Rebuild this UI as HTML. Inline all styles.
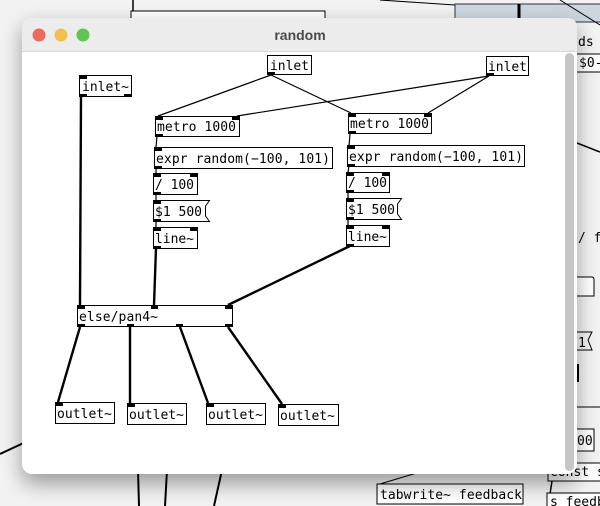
<!DOCTYPE html>
<html><head><meta charset="utf-8"><style>
html,body{margin:0;padding:0;width:600px;height:506px;overflow:hidden;background:#f4f4f4}
svg{position:absolute;left:0;top:0}
text{font-family:"DejaVu Sans Mono","Liberation Mono",monospace;font-size:13px;fill:#000}
</style></head><body>
<svg width="600" height="506" viewBox="0 0 600 506">
<defs>
<filter id="sh" x="-10%" y="-10%" width="120%" height="125%"><feGaussianBlur stdDeviation="10"/></filter>
</defs>
<rect x="0" y="0" width="600" height="506" fill="#f2f2f2"/>
<line x1="133" y1="0" x2="133" y2="12" stroke="#000" stroke-width="1.5"/>
<rect x="131" y="11" width="194" height="14" fill="#fff" stroke="#000"/>
<rect x="455" y="4" width="150" height="18" fill="#cdd6e0" stroke="#333"/>
<line x1="519" y1="4" x2="519" y2="22" stroke="#000" stroke-width="3"/>
<line x1="380" y1="0" x2="455" y2="5" stroke="#000"/>
<line x1="560" y1="0" x2="600" y2="25" stroke="#000"/>
<text x="578" y="46">ds</text>
<rect x="576" y="54" width="30" height="18" fill="#fff" stroke="#000"/>
<text x="579" y="67">$0-</text>
<line x1="577" y1="143" x2="600" y2="152" stroke="#000" stroke-width="1.5"/>
<text x="578" y="242">/ f</text>
<path d="M577 277 H592 Q594 277 594 280 V296 H577" fill="#fff" stroke="#000"/>
<text x="578" y="347">1</text>
<path d="M577 332 H592 L588 340 L592 350 H577" fill="none" stroke="#000"/>
<line x1="578" y1="364" x2="578" y2="382" stroke="#000" stroke-width="2"/>
<line x1="577" y1="407" x2="600" y2="407" stroke="#000"/>
<rect x="576" y="429" width="18" height="22" fill="#fff" stroke="#000"/>
<text x="577" y="445">00</text>
<rect x="548" y="463" width="60" height="18" fill="#fff" stroke="#000"/>
<text x="550" y="476">const s</text>
<line x1="552" y1="481" x2="550" y2="494" stroke="#000" stroke-width="1.5"/>
<rect x="547" y="493" width="60" height="18" fill="#fff" stroke="#000"/>
<text x="550" y="506">s feedb</text>
<rect x="377" y="484" width="146" height="20" fill="#fff" stroke="#000"/>
<text x="380" y="499" textLength="142" lengthAdjust="spacing">tabwrite~ feedback</text>
<line x1="380" y1="484" x2="420" y2="472" stroke="#000"/>
<line x1="138" y1="470" x2="139" y2="506" stroke="#000" stroke-width="2"/>
<line x1="167" y1="470" x2="165" y2="506" stroke="#000" stroke-width="2"/>
<line x1="222" y1="470" x2="214" y2="506" stroke="#000" stroke-width="2"/>
<line x1="0" y1="454" x2="30" y2="440" stroke="#000" stroke-width="2"/>
<rect x="22" y="26" width="555" height="458" rx="10" fill="#000" opacity="0.35" filter="url(#sh)"/>
<rect x="22" y="18" width="555" height="456" rx="10" fill="#fff"/>
<path d="M22 51 V28 Q22 18 32 18 H567 Q577 18 577 28 V51 Z" fill="#ececec"/>
<line x1="22" y1="51.5" x2="577" y2="51.5" stroke="#d8d8d8"/>
<circle cx="39" cy="35" r="6.5" fill="#ec6a5e"/>
<circle cx="61" cy="35" r="6.5" fill="#f4bf4f"/>
<circle cx="83" cy="35" r="6.5" fill="#61c554"/>
<text x="300" y="40" text-anchor="middle" style="font-family:'Liberation Sans',sans-serif;font-size:14px;font-weight:bold;fill:#4a4a4a">random</text>
<rect x="565" y="53" width="9" height="418" rx="4.5" fill="#c6c6c6"/>
<g stroke="#000" stroke-width="1.2">
<line x1="271" y1="75" x2="158" y2="116"/>
<line x1="271" y1="75" x2="351" y2="113"/>
<line x1="489" y1="76" x2="237" y2="116"/>
<line x1="489" y1="76" x2="428" y2="113"/>
<line x1="157" y1="136" x2="156" y2="147"/>
<line x1="156" y1="168" x2="156" y2="174"/>
<line x1="156" y1="194" x2="156" y2="200"/>
<line x1="156" y1="221" x2="156" y2="227"/>
<line x1="350" y1="134" x2="349" y2="146"/>
<line x1="349" y1="166" x2="348" y2="172"/>
<line x1="348" y1="192" x2="348" y2="198"/>
<line x1="348" y1="219" x2="348" y2="225"/>
</g>
<g stroke="#000" stroke-width="2.4">
<line x1="81" y1="96" x2="80" y2="305"/>
<line x1="156" y1="248" x2="154" y2="305"/>
<line x1="350" y1="246" x2="228" y2="305"/>
<line x1="80" y1="327" x2="58" y2="402"/>
<line x1="130" y1="327" x2="130" y2="403"/>
<line x1="180" y1="327" x2="208" y2="403"/>
<line x1="228" y1="327" x2="282" y2="404"/>
</g>
<g fill="#fff" stroke="#000" stroke-width="1">
<rect x="267.5" y="55.5" width="44" height="19"/>
<rect x="486.5" y="56.5" width="42" height="19"/>
<rect x="79.5" y="75.5" width="52" height="21"/>
<rect x="155.5" y="116.5" width="84" height="20"/>
<rect x="348.5" y="113.5" width="83" height="20"/>
<rect x="154.5" y="147.5" width="178" height="21"/>
<rect x="347.5" y="145.5" width="177" height="21"/>
<rect x="153.5" y="173.5" width="44" height="21"/>
<rect x="346.5" y="172.5" width="43" height="20"/>
<path d="M153.5 200.5 H209.5 L205.5 206 V216 L209.5 221.5 H153.5 Z"/>
<path d="M346.5 198.5 H401.5 L397.5 204 V214 L401.5 219.5 H346.5 Z"/>
<rect x="153.5" y="227.5" width="44" height="21"/>
<rect x="346.5" y="225.5" width="43" height="21"/>
<rect x="77.5" y="305.5" width="155" height="21"/>
<rect x="55.5" y="402.5" width="59" height="21"/>
<rect x="127.5" y="403.5" width="59" height="21"/>
<rect x="206.5" y="403.5" width="59" height="21"/>
<rect x="278.5" y="404.5" width="60" height="21"/>
</g>
<g fill="#000">
<rect x="268" y="72" width="7" height="3"/><rect x="487" y="73" width="7" height="3"/>
<rect x="80" y="76" width="7" height="3"/><rect x="80" y="94" width="7" height="3"/><rect x="124" y="94" width="7" height="3"/>
<rect x="156" y="117" width="7" height="3"/><rect x="232" y="117" width="7" height="3"/><rect x="156" y="134" width="7" height="3"/>
<rect x="349" y="114" width="7" height="3"/><rect x="424" y="114" width="7" height="3"/><rect x="349" y="131" width="7" height="3"/>
<rect x="155" y="148" width="7" height="3"/><rect x="155" y="166" width="7" height="3"/>
<rect x="348" y="146" width="7" height="3"/><rect x="348" y="164" width="7" height="3"/>
<rect x="154" y="174" width="7" height="3"/><rect x="190" y="174" width="7" height="3"/><rect x="154" y="192" width="7" height="3"/>
<rect x="347" y="173" width="7" height="3"/><rect x="382" y="173" width="7" height="3"/><rect x="347" y="190" width="7" height="3"/>
<rect x="154" y="201" width="7" height="3"/><rect x="154" y="219" width="7" height="3"/>
<rect x="347" y="199" width="7" height="3"/><rect x="347" y="217" width="7" height="3"/>
<rect x="154" y="228" width="7" height="3"/><rect x="190" y="228" width="7" height="3"/><rect x="154" y="246" width="7" height="3"/>
<rect x="347" y="226" width="7" height="3"/><rect x="382" y="226" width="7" height="3"/><rect x="347" y="244" width="7" height="3"/>
<rect x="78" y="306" width="7" height="3"/><rect x="151" y="306" width="7" height="3"/><rect x="225" y="306" width="7" height="3"/>
<rect x="78" y="324" width="7" height="3"/><rect x="127" y="324" width="7" height="3"/><rect x="176" y="324" width="7" height="3"/><rect x="225" y="324" width="7" height="3"/>
<rect x="56" y="403" width="7" height="3"/><rect x="128" y="404" width="7" height="3"/><rect x="207" y="404" width="7" height="3"/><rect x="279" y="405" width="7" height="3"/>
</g>
<text x="270" y="70" textLength="39" lengthAdjust="spacing">inlet</text>
<text x="488" y="71" textLength="39" lengthAdjust="spacing">inlet</text>
<text x="82" y="91" textLength="47" lengthAdjust="spacing">inlet~</text>
<text x="157" y="131" textLength="79" lengthAdjust="spacing">metro 1000</text>
<text x="350" y="128" textLength="79" lengthAdjust="spacing">metro 1000</text>
<text x="156" y="163" textLength="174" lengthAdjust="spacing">expr random(−100, 101)</text>
<text x="349" y="161" textLength="174" lengthAdjust="spacing">expr random(−100, 101)</text>
<text x="155" y="189" textLength="39" lengthAdjust="spacing">/ 100</text>
<text x="348" y="187" textLength="39" lengthAdjust="spacing">/ 100</text>
<text x="155" y="216" textLength="47" lengthAdjust="spacing">$1 500</text>
<text x="348" y="214" textLength="47" lengthAdjust="spacing">$1 500</text>
<text x="155" y="243" textLength="39" lengthAdjust="spacing">line~</text>
<text x="348" y="241" textLength="39" lengthAdjust="spacing">line~</text>
<text x="79" y="321" textLength="79" lengthAdjust="spacing">else/pan4~</text>
<text x="57" y="418" textLength="55" lengthAdjust="spacing">outlet~</text>
<text x="129" y="419" textLength="55" lengthAdjust="spacing">outlet~</text>
<text x="208" y="419" textLength="55" lengthAdjust="spacing">outlet~</text>
<text x="280" y="420" textLength="55" lengthAdjust="spacing">outlet~</text>
</svg>
</body></html>
